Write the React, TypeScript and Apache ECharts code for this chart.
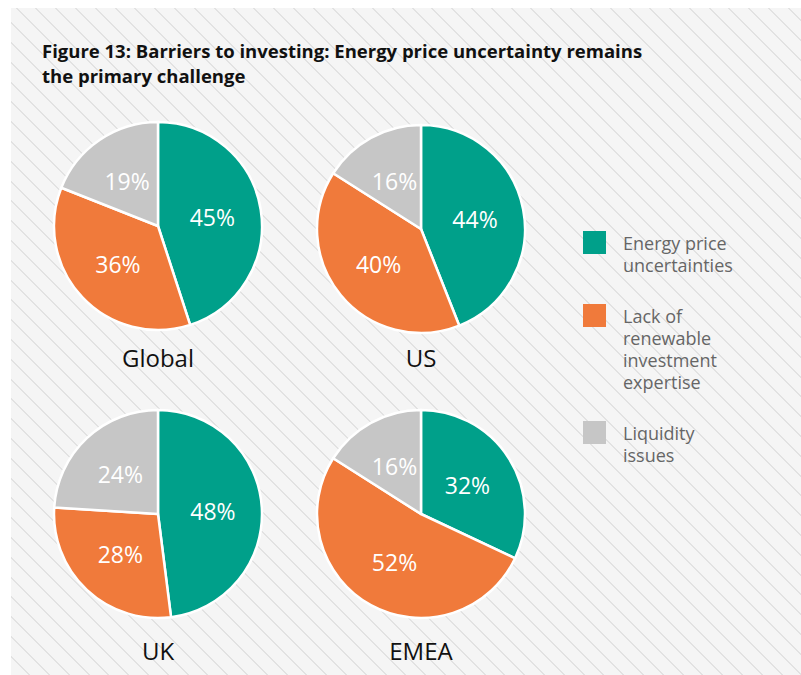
import React, { useEffect, useRef } from "react";
import * as echarts from "echarts";

const titleLines = [
  "Figure 13: Barriers to investing: Energy price uncertainty remains",
  "the primary challenge",
];
const categories = [
  "Energy price uncertainties",
  "Lack of renewable investment expertise",
  "Liquidity issues",
];
const legendLines = [
  ["Energy price", "uncertainties"],
  ["Lack of", "renewable", "investment", "expertise"],
  ["Liquidity", "issues"],
];
const regions = ["Global", "US", "UK", "EMEA"];
const energyPrice = [45, 44, 48, 32];
const lackExpertise = [36, 40, 28, 52];
const liquidity = [19, 16, 24, 16];

const colors = ["#00A08A", "#F07A3B", "#C6C6C6"];
const FONT = "'Open Sans', 'Noto Sans', sans-serif";

const centers: [number, number][] = [
  [158, 226],
  [421, 229],
  [158, 514],
  [421, 514],
];
const R = 104;

export default function App() {
  const ref = useRef<HTMLDivElement>(null);
  useEffect(() => {
    if (!ref.current) return;
    const chart = echarts.init(ref.current, null, { renderer: "svg" });
    const series = regions.map((reg, i) => ({
      type: "pie",
      name: reg,
      center: centers[i],
      radius: R,
      startAngle: 90,
      clockwise: true,
      silent: true,
      itemStyle: { borderColor: "#ffffff", borderWidth: 2.5 },
      label: {
        show: true,
        position: "inside",
        formatter: "{c}%",
        color: "#ffffff",
        fontSize: 23,
        fontFamily: FONT,
      },
      labelLine: { show: false },
      data: [
        { name: categories[0], value: energyPrice[i], itemStyle: { color: colors[0] } },
        { name: categories[1], value: lackExpertise[i], itemStyle: { color: colors[1] } },
        { name: categories[2], value: liquidity[i], itemStyle: { color: colors[2] } },
      ],
    }));

    const graphics: any[] = [];
    graphics.push({
      type: "text",
      left: 42,
      top: 38,
      style: {
        text: titleLines.join("\n"),
        fontSize: 18.5,
        fontWeight: "bold",
        fontFamily: FONT,
        fill: "#111111",
        lineHeight: 25,
      },
    });
    regions.forEach((reg, i) => {
      graphics.push({
        type: "text",
        x: centers[i][0],
        y: i < 2 ? 357 : 650,
        style: {
          text: reg,
          fontSize: 24,
          fontFamily: FONT,
          fill: "#111111",
          align: "center",
          verticalAlign: "middle",
        },
      });
    });
    let y = 231;
    const lh = 22;
    legendLines.forEach((lines, k) => {
      graphics.push({
        type: "rect",
        shape: { x: 583, y, width: 23, height: 23 },
        style: { fill: colors[k] },
      });
      lines.forEach((ln, j) => {
        graphics.push({
          type: "text",
          x: 623,
          y: y + 12 + j * lh,
          style: {
            text: ln,
            fontSize: 18,
            fontFamily: FONT,
            fill: "#666666",
            verticalAlign: "middle",
          },
        });
      });
      y += lines.length * lh + 29;
    });

    chart.setOption({
      animation: false,
      backgroundColor: "transparent",
      series,
      graphic: graphics,
    });
    return () => chart.dispose();
  }, []);

  return (
    <div style={{ position: "fixed", left: 0, top: 0, width: 801, height: 675, background: "#ffffff" }}>
      <div
        style={{
          position: "absolute",
          left: 11,
          top: 8,
          width: 790,
          height: 667,
          backgroundColor: "#f5f5f5",
          backgroundImage:
            "repeating-linear-gradient(45deg, #f5f5f5 0px, #f5f5f5 12.5px, #e2e2e2 12.5px, #e2e2e2 14px)",
        }}
      />
      <div ref={ref} style={{ position: "absolute", left: 0, top: 0, width: 801, height: 675 }} />
    </div>
  );
}
